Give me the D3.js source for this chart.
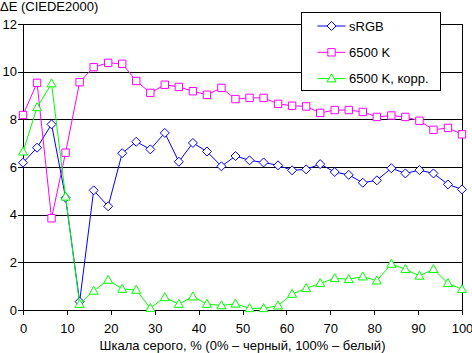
<!DOCTYPE html>
<html>
<head>
<meta charset="utf-8">
<script src="https://cdn.jsdelivr.net/npm/d3@7"></script>
<style>
  body { margin: 0; background: #fff; }
  svg text { font-family: "Liberation Sans", Arial, sans-serif; font-size: 13px; fill: #000; }
</style>
</head>
<body>
<svg width="472" height="353"></svg>
<script>
// уровни серого (%)
const grayLevels = [0, 3.2, 6.5, 9.7, 12.9, 16.1, 19.4, 22.6, 25.8, 29.0, 32.3, 35.5, 38.7, 41.9, 45.2, 48.4,
    51.6, 54.8, 58.1, 61.3, 64.5, 67.7, 71.0, 74.2, 77.4, 80.6, 83.9, 87.1, 90.3, 93.5, 96.8, 100];

const srgb = [6.18, 6.81, 7.79, 4.71, 0.35, 5.02, 4.35, 6.58, 7.06, 6.74, 7.43, 6.22, 7.01, 6.65, 6.03, 6.46,
    6.28, 6.19, 6.07, 5.86, 5.90, 6.12, 5.79, 5.67, 5.34, 5.44, 5.95, 5.73, 5.87, 5.73, 5.27, 5.06];

const k6500 = [8.18, 9.53, 3.85, 6.60, 9.56, 10.19, 10.37, 10.33, 9.61, 9.11, 9.45, 9.36, 9.18, 9.03, 9.32, 8.85,
    8.90, 8.90, 8.65, 8.57, 8.54, 8.27, 8.39, 8.39, 8.31, 8.10, 8.16, 8.10, 7.94, 7.56, 7.64, 7.37];

const k6500corr = [6.64, 8.50, 9.50, 4.75, 0.25, 0.80, 1.26, 0.88, 0.84, 0.08, 0.53, 0.25, 0.56, 0.25, 0.19, 0.26,
    0.07, 0.07, 0.18, 0.67, 0.91, 1.12, 1.33, 1.29, 1.40, 1.23, 1.93, 1.71, 1.43, 1.71, 1.12, 0.87];

const seriesNames = ["sRGB", "6500 K", "6500 K, корр."];
const xTicks = [0, 10, 20, 30, 40, 50, 60, 70, 80, 90, 100];
const yTicks = [0, 2, 4, 6, 8, 10, 12];

const series = [
    { name: seriesNames[0], values: srgb, color: "#0000ff", marker: "diamond" },
    { name: seriesNames[1], values: k6500, color: "#ff00ff", marker: "square" },
    { name: seriesNames[2], values: k6500corr, color: "#00ff00", marker: "triangle" }
];

const margin = { top: 24, right: 10, bottom: 43, left: 23 };
const width = 472 - margin.left - margin.right;
const height = 353 - margin.top - margin.bottom;

const svg = d3.select("svg")
    .append("g")
    .attr("transform", `translate(${margin.left},${margin.top})`);

const x = d3.scaleLinear().domain([0, 100]).range([0, width]);
const y = d3.scaleLinear().domain([0, 12]).range([height, 0]);

// сетка + ось Y
const yAxis = svg.append("g")
    .call(d3.axisLeft(y).tickValues(yTicks).tickSize(-width).tickSizeOuter(0).tickPadding(6));
yAxis.select(".domain").remove();
yAxis.selectAll(".tick line").attr("x1", -5).attr("stroke", "#000").attr("shape-rendering", "crispEdges");
yAxis.selectAll("text").style("font-size", "13px");

// рамка слева и справа
svg.append("line").attr("x1", 0).attr("x2", 0).attr("y1", 0).attr("y2", height)
    .attr("stroke", "#000").attr("shape-rendering", "crispEdges");
svg.append("line").attr("x1", width).attr("x2", width).attr("y1", 0).attr("y2", height)
    .attr("stroke", "#000").attr("shape-rendering", "crispEdges");

// ось X
const xAxis = svg.append("g")
    .attr("transform", `translate(0,${height})`)
    .call(d3.axisBottom(x).tickValues(xTicks).tickSize(5).tickSizeOuter(0).tickPadding(9));
xAxis.selectAll("line, path").attr("stroke", "#000").attr("shape-rendering", "crispEdges");
xAxis.selectAll("text").style("font-size", "13px");

// подписи осей
d3.select("svg").append("text")
    .attr("x", 0).attr("y", 11)
    .text("ΔE (CIEDE2000)");

d3.select("svg").append("text")
    .attr("x", margin.left + width / 2).attr("y", 350)
    .attr("text-anchor", "middle")
    .text("Шкала серого, % (0% – черный, 100% – белый)");

function markerPath(type) {
    if (type === "diamond") return "M0,-4.5L4.5,0L0,4.5L-4.5,0Z";
    if (type === "square") return "M-3.7,-3.7H3.7V3.7H-3.7Z";
    return "M0,-4.7L4.5,3.3H-4.5Z";
}

const line = d3.line()
    .x((d, i) => x(grayLevels[i]))
    .y(d => y(d));

// линии и маркеры
series.forEach(s => {
    const g = svg.append("g");
    g.append("path")
        .datum(s.values)
        .attr("fill", "none")
        .attr("stroke", s.color)
        .attr("stroke-width", 1)
        .attr("d", line);
    g.selectAll("path.mk")
        .data(s.values)
        .enter().append("path")
        .attr("class", "mk")
        .attr("transform", (d, i) => `translate(${x(grayLevels[i])},${y(d)})`)
        .attr("d", markerPath(s.marker))
        .attr("fill", "#fff")
        .attr("stroke", s.color)
        .attr("stroke-width", 1);
});

// легенда
const legend = d3.select("svg").append("g").attr("transform", "translate(301.5,12.5)");
legend.append("rect")
    .attr("width", 139).attr("height", 78)
    .attr("fill", "#fff").attr("stroke", "#000");

series.forEach((s, i) => {
    const row = legend.append("g").attr("transform", `translate(0,${13.5 + i * 26.3})`);
    row.append("line").attr("x1", 16).attr("x2", 44).attr("stroke", s.color);
    row.append("path")
        .attr("transform", "translate(30,0)")
        .attr("d", markerPath(s.marker))
        .attr("fill", "#fff").attr("stroke", s.color);
    row.append("text")
        .attr("x", 47.5).attr("dy", "0.35em")
        .text(s.name);
});
</script>
</body>
</html>
